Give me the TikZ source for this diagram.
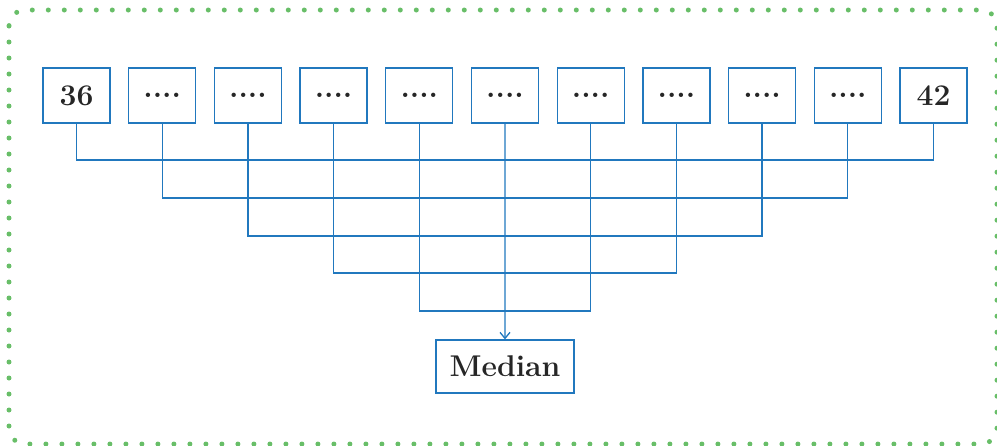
\documentclass[tikz,border=0pt]{standalone}
\usepackage{fontspec}
\usetikzlibrary{arrows.meta}
\definecolor{lineblue}{RGB}{33,120,190}
\definecolor{dotgreen}{RGB}{104,190,104}
\newcommand\fourdots{....}
\tikzset{
  numbox/.style={draw=lineblue, line width=1.3pt, minimum width=67pt, minimum height=55pt, inner sep=0pt, font=\fontsize{30}{34}\selectfont\bfseries, text=black!85},
  medbox/.style={draw=lineblue, line width=1.3pt, minimum width=138pt, minimum height=53pt, inner sep=0pt, font=\fontsize{30}{34}\selectfont\bfseries, text=black!85},
  conn/.style={draw=lineblue, line width=1.3pt},
  frame/.style={draw=dotgreen, line width=5pt, line cap=round, dash pattern=on 0pt off 16pt, rounded corners=16pt}
}
\begin{document}
\begin{tikzpicture}[x=1pt,y=-1pt]
\useasboundingbox (0,0) rectangle (997,445);
\draw[frame] (9,10) rectangle (997,444);
\node[numbox] (b0) at (76.5,95.5) {36};
\foreach \i in {1,2,3,4,5,6,7,8,9}{
  \node[numbox] (b\i) at ({76.5+85.7*\i},95.5) {\fourdots};
}
\node[numbox] (b10) at ({76.5+857},95.5) {42};
\node[medbox] (med) at (505,366.5) {Median};
\foreach \i/\j/\y in {0/10/160,1/9/198,2/8/236,3/7/273,4/6/311}{
  \draw[conn] (b\i.south) |- (b\i.south |- 0,\y) -| (b\j.south);
}
\draw[conn,-{Straight Barb[length=6pt,width=10pt]}] (b5.south) -- (med.north);
\end{tikzpicture}
\end{document}
